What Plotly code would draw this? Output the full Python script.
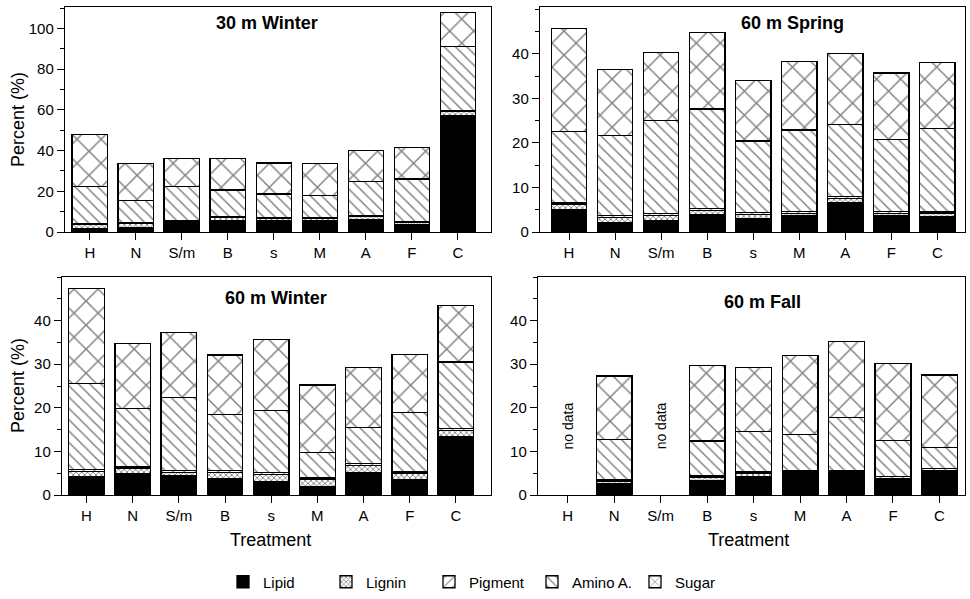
import plotly.graph_objects as go

categories = ["H", "N", "S/m", "B", "s", "M", "A", "F", "C"]
components = ["Lipid", "Lignin", "Pigment", "Amino A.", "Sugar"]

# 30 m Winter (segment heights, %)
w30_lipid   = [1.5, 2.1, 4.9, 5.4, 5.4, 5.4, 6.3, 3.5, 57.0]
w30_lignin  = [2.2, 2.1, 0.5, 1.6, 1.3, 1.3, 1.2, 1.2, 2.3]
w30_pigment = [0.4, 0.4, 0.4, 0.4, 0.4, 0.4, 0.4, 0.4, 0.4]
w30_amino   = [18.3, 11.0, 16.6, 13.2, 11.5, 10.8, 16.8, 20.9, 31.3]
w30_sugar   = [25.6, 17.9, 13.6, 15.4, 15.3, 15.6, 15.4, 15.4, 16.7]

# 60 m Spring
sp60_lipid   = [5.0, 2.1, 2.6, 3.9, 3.0, 3.7, 6.5, 3.6, 3.4]
sp60_lignin  = [1.1, 1.2, 1.1, 0.9, 0.9, 0.5, 1.0, 0.6, 0.7]
sp60_pigment = [0.4, 0.4, 0.4, 0.4, 0.4, 0.4, 0.4, 0.4, 0.4]
sp60_amino   = [16.0, 18.0, 20.9, 22.4, 16.1, 18.3, 16.2, 16.1, 18.7]
sp60_sugar   = [23.1, 14.7, 15.3, 17.2, 13.6, 15.3, 16.0, 15.0, 14.9]

# 60 m Winter
w60_lipid   = [4.3, 4.8, 4.5, 3.8, 3.1, 1.9, 5.1, 3.6, 13.4]
w60_lignin  = [1.1, 1.2, 0.7, 1.4, 1.6, 1.6, 1.7, 1.3, 1.4]
w60_pigment = [0.4, 0.4, 0.4, 0.4, 0.4, 0.4, 0.4, 0.4, 0.4]
w60_amino   = [19.7, 13.4, 16.7, 12.9, 14.3, 5.9, 8.3, 13.6, 15.3]
w60_sugar   = [21.8, 15.0, 14.9, 13.6, 16.3, 15.4, 13.7, 13.4, 13.0]

# 60 m Fall (no data for H and S/m)
f60_lipid   = [None, 2.6, None, 3.4, 4.3, 4.8, 4.9, 3.7, 5.3]
f60_lignin  = [None, 0.6, None, 0.7, 0.6, 0.3, 0.2, 0.1, 0.3]
f60_pigment = [None, 0.4, None, 0.4, 0.4, 0.4, 0.4, 0.4, 0.4]
f60_amino   = [None, 9.1, None, 7.9, 9.2, 8.3, 12.2, 8.3, 4.9]
f60_sugar   = [None, 14.6, None, 17.3, 14.8, 18.2, 17.5, 17.7, 16.6]

panel_titles = ["30 m Winter", "60 m Spring", "60 m Winter", "60 m Fall"]
no_data_categories = ["H", "S/m"]
ytick_labels_30 = [0, 20, 40, 60, 80, 100]
ytick_labels_60 = [0, 10, 20, 30, 40]

panels = [
    [w30_lipid, w30_lignin, w30_pigment, w30_amino, w30_sugar],
    [sp60_lipid, sp60_lignin, sp60_pigment, sp60_amino, sp60_sugar],
    [w60_lipid, w60_lignin, w60_pigment, w60_amino, w60_sugar],
    [f60_lipid, f60_lignin, f60_pigment, f60_amino, f60_sugar],
]

FONT = "Liberation Sans, Arial, Helvetica, sans-serif"
W, H = 970, 599

styles = {
    "Lipid": dict(color="black"),
    "Lignin": dict(color="white", pattern=dict(shape="x", fgcolor="black", bgcolor="white",
                                                size=4, solidity=0.4, fillmode="overlay")),
    "Pigment": dict(color="white", pattern=dict(shape="/", fgcolor="black", bgcolor="white",
                                                 size=8, solidity=0.17, fillmode="overlay")),
    "Amino A.": dict(color="white", pattern=dict(shape="\\", fgcolor="black", bgcolor="white",
                                                  size=8, solidity=0.18, fillmode="overlay")),
    "Sugar": dict(color="white", pattern=dict(shape="x", fgcolor="black", bgcolor="white",
                                               size=17, solidity=0.16, fillmode="overlay")),
}

fig = go.Figure()
axis_ids = ["", "2", "3", "4"]
for p, series in enumerate(panels):
    ax = axis_ids[p]
    for name, vals in zip(components, series):
        m = dict(styles[name])
        m["line"] = dict(color="black", width=1.3)
        fig.add_trace(go.Bar(
            x=categories, y=vals, name=name, marker=m, width=0.77,
            xaxis="x" + ax, yaxis="y" + ax,
            showlegend=(p == 0), legendgroup=name, hoverinfo="skip",
        ))

def px_x(v):
    return v / W

def px_y(v):
    return 1 - v / H

x_domains = [[65, 491], [540, 965], [62, 491], [538, 965]]
y_domains = [[7, 232], [7, 232], [277, 495], [277, 495]]
x_ranges = [[-0.54, 8.72], [-0.63, 8.6], [-0.53, 8.76], [-0.64, 8.55]]
y_ranges = [[0, 110.5], [0, 50.5], [0, 50], [0, 50]]
y_tickvals = [ytick_labels_30, ytick_labels_60, ytick_labels_60, ytick_labels_60]
y_minor = [10, 5, 5, 5]

layout = dict(
    width=W, height=H, margin=dict(l=0, r=0, t=0, b=0, autoexpand=False),
    paper_bgcolor="white", plot_bgcolor="white",
    barmode="stack", bargap=0.23,
    font=dict(family=FONT, size=14, color="black"),
    showlegend=True,
    legend=dict(orientation="h", x=px_x(223), xanchor="left", y=px_y(582), yanchor="middle",
                traceorder="normal", font=dict(family=FONT, size=15, color="black"),
                itemwidth=30, tracegroupgap=0, entrywidth=58, entrywidthmode="pixels"),
)
for p in range(4):
    ax = axis_ids[p]
    layout["xaxis" + ax] = dict(
        domain=[px_x(x_domains[p][0]), px_x(x_domains[p][1])],
        anchor="y" + ax, type="category", categoryorder="array", categoryarray=categories,
        range=x_ranges[p], showline=True, mirror=True, linecolor="black", linewidth=1.4,
        ticks="outside", ticklen=7, tickwidth=1.2, tickcolor="black",
        showgrid=False, zeroline=False, fixedrange=True, automargin=False,
        tickfont=dict(family=FONT, size=15, color="black"),
    )
    layout["yaxis" + ax] = dict(
        domain=[px_y(y_domains[p][1]), px_y(y_domains[p][0])],
        anchor="x" + ax, range=y_ranges[p], tickmode="array", tickvals=y_tickvals[p],
        showline=True, mirror=True, linecolor="black", linewidth=1.4,
        ticks="outside", ticklen=7, tickwidth=1.2, tickcolor="black",
        minor=dict(dtick=y_minor[p], tick0=0, ticks="outside", ticklen=4, tickwidth=1, tickcolor="black"),
        showgrid=False, zeroline=False, fixedrange=True, automargin=False,
        tickfont=dict(family=FONT, size=15, color="black"),
    )
fig.update_layout(layout)

annotations = []
title_pos = [(267, 23), (792, 23), (276, 298), (762, 302)]
for t, (xp, yp) in zip(panel_titles, title_pos):
    annotations.append(dict(text="<b>" + t + "</b>", x=px_x(xp), y=px_y(yp), xref="paper", yref="paper",
                            showarrow=False, xanchor="center", yanchor="middle",
                            font=dict(family=FONT, size=18, color="black")))
for yc in [120, 386]:
    annotations.append(dict(text="Percent (%)", x=px_x(18), y=px_y(yc), xref="paper", yref="paper",
                            showarrow=False, textangle=-90, xanchor="center", yanchor="middle",
                            font=dict(family=FONT, size=18, color="black")))
for xc in [270, 748]:
    annotations.append(dict(text="Treatment", x=px_x(xc), y=px_y(540), xref="paper", yref="paper",
                            showarrow=False, xanchor="center", yanchor="middle",
                            font=dict(family=FONT, size=18, color="black")))
for c in no_data_categories:
    annotations.append(dict(text="no data", x=c, y=15.9, xref="x4", yref="y4", showarrow=False,
                            textangle=-90, xanchor="center", yanchor="middle",
                            font=dict(family=FONT, size=14, color="black")))
fig.update_layout(annotations=annotations)

fig.write_html("out.html")
